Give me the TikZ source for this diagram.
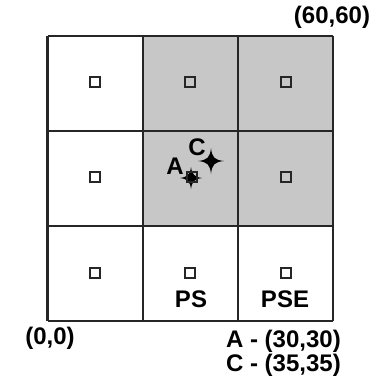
\documentclass[tikz,border=0pt]{standalone}
\usepackage{fontspec}
\setmainfont{Liberation Sans}
\begin{document}
\begin{tikzpicture}[x=1pt,y=-1pt,
  gridline/.style={line width=2.5pt,draw=black!85},
  cellsq/.style={draw=black!85,line width=1.8pt,minimum size=10.5pt,inner sep=0pt},
  lbl/.style={font=\bfseries\fontsize{24}{28}\selectfont,inner sep=0pt},
  starmark/.style={fill=black}]
\useasboundingbox (0,0) rectangle (385,380);
\fill[white] (0,0) rectangle (385,380);
% gray cells
\fill[black!22] (143,36) rectangle (333,226);
% grid
\foreach \x in {47.5,143,238,333}{\draw[gridline] (\x,36) -- (\x,321);}
\foreach \y in {36,131,226,321}{\draw[gridline] (47.5,\y) -- (333,\y);}
% stars
\coordinate (A) at (191,178);
\coordinate (C) at (211,161);
\fill[starmark] (A) ++(0,-11) .. controls ++(1,7.5) and ++(-7.5,-1) .. ++(11,11)
  .. controls ++(-7.5,1) and ++(1,-7.5) .. ++(-11,11)
  .. controls ++(-1,-7.5) and ++(7.5,1) .. ++(-11,-11)
  .. controls ++(7.5,-1) and ++(-1,7.5) .. ++(11,-11) -- cycle;
\fill[starmark] (C) ++(0,-13) .. controls ++(1,9.5) and ++(-9.5,-1) .. ++(13,13)
  .. controls ++(-9.5,1) and ++(1,-9.5) .. ++(-13,13)
  .. controls ++(-1,-9.5) and ++(9.5,1) .. ++(-13,-13)
  .. controls ++(9.5,-1) and ++(-1,9.5) .. ++(13,-13) -- cycle;
% small squares
\foreach \x/\i in {95/1,190/2,286/3}{
  \node[cellsq] (t\i) at (\x,82) {};
  \node[cellsq] (b\i) at (\x,273) {};
}
\node[cellsq] (m1) at (95,177) {};
\node[cellsq] (m2) at (192,177) {};
\node[cellsq] (m3) at (286,177) {};
% labels
\node[lbl] (la) at (175,166) {A};
\node[lbl] (lc) at (197,147) {C};
\node[lbl] (ps) at (191,299) {PS};
\node[lbl] (pse) at (285,299) {PSE};
\node[lbl] (c60) at (332,17) {(60,60)};
\node[lbl] (c00) at (50,338) {(0,0)};
\node[lbl,anchor=east] (ta) at (341,341) {A - (30,30)};
\node[lbl,anchor=east] (tc) at (341,365) {C - (35,35)};
\end{tikzpicture}
\end{document}
